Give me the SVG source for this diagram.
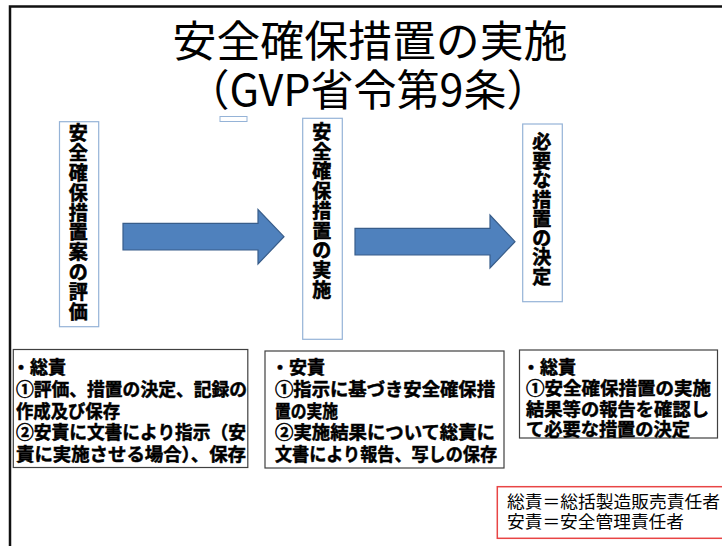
<svg xmlns="http://www.w3.org/2000/svg" width="722" height="546" viewBox="0 0 722 546">
<style>
.title{font-family:"Noto Sans CJK JP","Noto Sans",sans-serif;font-size:43px;fill:#000;}
.vt{font-family:"Noto Sans CJK JP",sans-serif;font-size:19px;font-weight:bold;fill:#000;stroke:#000;stroke-width:0.6;}
.vbox{fill:#fff;stroke:#95B3D7;stroke-width:1.2;}
.bbox{fill:#fff;stroke:#404040;stroke-width:1.2;}
.bt{font-family:"Noto Sans CJK JP",sans-serif;font-size:18px;font-weight:bold;fill:#000;stroke:#000;stroke-width:0.5;}
.rt{font-family:"Noto Sans CJK JP",sans-serif;font-size:17px;fill:#000;}
.arrow{fill:#4F81BD;stroke:#385D8A;stroke-width:1.2;}
</style>
<rect width="722" height="546" fill="#fff"/>
<path d="M10 546 V6.5 H722" fill="none" stroke="#111" stroke-width="2.5"/>
<g id="title">
<text class="title" x="370" y="57" text-anchor="middle" textLength="395" lengthAdjust="spacingAndGlyphs">安全確保措置の実施</text>
<text class="title" x="368" y="106" text-anchor="middle">（GVP省令第9条）</text>
</g>
<rect x="220" y="116.5" width="27" height="5" fill="none" stroke="#95B3D7" stroke-width="1"/>
<g id="connectors">
<polygon class="arrow" points="123,223.3 258,223.3 258,209.5 284,236.7 258,264 258,250 123,250"/>
<polygon class="arrow" points="355,228.3 490,228.3 490,215 515,241.7 490,268 490,255 355,255"/>
</g>
<g id="step1">
<rect class="vbox" x="59.5" y="121.7" width="39.2" height="205"/>
<text class="vt" text-anchor="middle" x="78.3 78.3 78.3 78.3 78.3 78.3 78.3 78.3 78.3 78.3" y="140.4 160.2 180 199.8 219.6 239.4 259.2 279 298.8 318.6">安全確保措置案の評価</text>
</g>
<g id="step2">
<rect class="vbox" x="302.7" y="118.3" width="39.6" height="221"/>
<text class="vt" text-anchor="middle" x="321.7 321.7 321.7 321.7 321.7 321.7 321.7 321.7 321.7" y="138.7 158.5 178.3 198.1 217.9 237.6 257.4 277.2 297">安全確保措置の実施</text>
</g>
<g id="step3">
<rect class="vbox" x="522.7" y="124" width="39.6" height="177.7"/>
<text class="vt" text-anchor="middle" x="541.7 541.7 541.7 541.7 541.7 541.7 541.7 541.7" y="148.7 168 187.3 206.6 225.9 245.2 264.4 283.7">必要な措置の決定</text>
</g>
<g id="roleA">
<rect class="bbox" x="13.3" y="349.5" width="234.5" height="118"/>
<text class="bt" x="12" y="374">・総責</text>
<text class="bt" x="16" y="396" textLength="231" lengthAdjust="spacingAndGlyphs">①評価、措置の決定、記録の</text>
<text class="bt" x="16" y="417.5" textLength="104" lengthAdjust="spacingAndGlyphs">作成及び保存</text>
<text class="bt" x="16" y="439" textLength="230" lengthAdjust="spacingAndGlyphs">②安責に文書により指示（安</text>
<text class="bt" x="16" y="461" textLength="230" lengthAdjust="spacingAndGlyphs">責に実施させる場合）、保存</text>
</g>
<g id="roleB">
<rect class="bbox" x="265" y="351" width="239" height="117"/>
<text class="bt" x="271" y="374">・安責</text>
<text class="bt" x="275" y="396" textLength="220" lengthAdjust="spacingAndGlyphs">①指示に基づき安全確保措</text>
<text class="bt" x="275" y="417.5" textLength="63" lengthAdjust="spacingAndGlyphs">置の実施</text>
<text class="bt" x="275" y="439" textLength="220" lengthAdjust="spacingAndGlyphs">②実施結果について総責に</text>
<text class="bt" x="275" y="461" textLength="222" lengthAdjust="spacingAndGlyphs">文書により報告、写しの保存</text>
</g>
<g id="roleC">
<rect class="bbox" x="519.5" y="350" width="198" height="88"/>
<text class="bt" x="522" y="374">・総責</text>
<text class="bt" x="526" y="395" textLength="185" lengthAdjust="spacingAndGlyphs">①安全確保措置の実施</text>
<text class="bt" x="526" y="416" textLength="183" lengthAdjust="spacingAndGlyphs">結果等の報告を確認し</text>
<text class="bt" x="526" y="436" textLength="164" lengthAdjust="spacingAndGlyphs">て必要な措置の決定</text>
</g>
<g id="legend">
<rect x="497.3" y="486.7" width="230" height="51.6" fill="#fff" stroke="#E84545" stroke-width="1.5"/>
<text class="rt" x="507" y="508" textLength="213" lengthAdjust="spacingAndGlyphs">総責＝総括製造販売責任者</text>
<text class="rt" x="507" y="528" textLength="177" lengthAdjust="spacingAndGlyphs">安責＝安全管理責任者</text>
</g>
</svg>
